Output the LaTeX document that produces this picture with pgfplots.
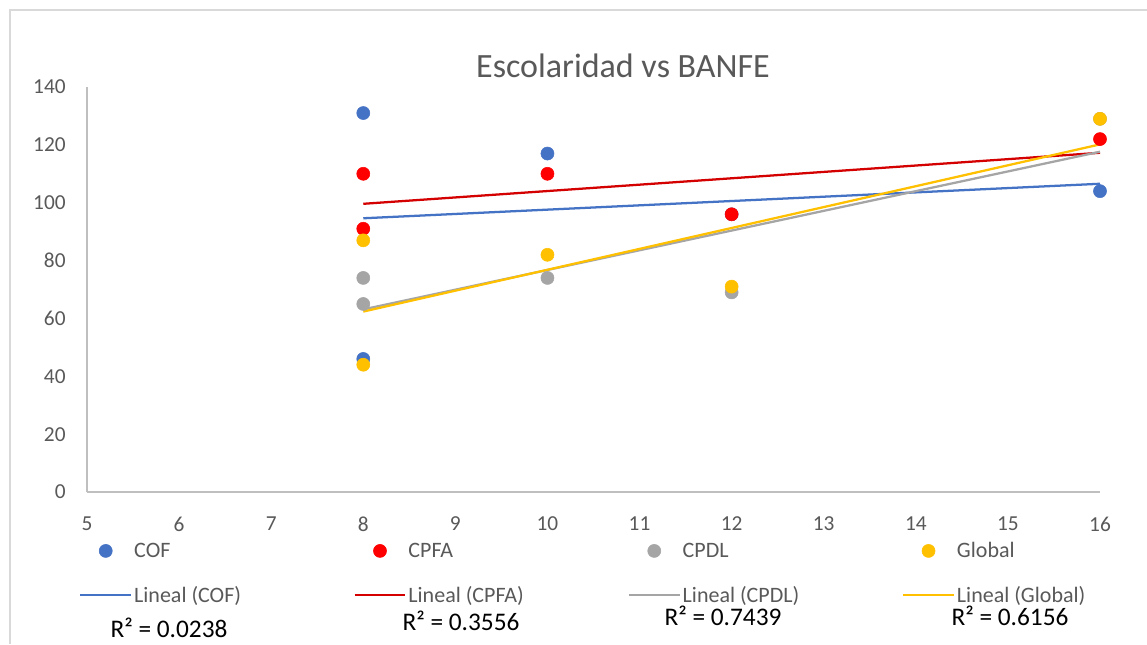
\documentclass[border=0pt]{standalone}
\usepackage{pgfplots}
\pgfplotsset{compat=1.18}
\usepackage{fontspec}
\setmainfont{Carlito}
\definecolor{cof}{HTML}{4472C4}
\definecolor{cpfa}{HTML}{FF0000}
\definecolor{cpfaline}{HTML}{D40000}
\definecolor{cpdl}{HTML}{A5A5A5}
\definecolor{glob}{HTML}{FFC000}
\definecolor{txt}{HTML}{595959}
\definecolor{framec}{HTML}{D9D9D9}
\definecolor{axl}{HTML}{BFBFBF}
\pgfplotsset{
  dotstyle/.style={only marks, mark=*, mark size=4.9pt, mark options={draw=#1, fill=#1}, color=#1,
    legend image code/.code={\path[draw=none] (0pt,0pt) -- (38pt,0pt); \draw[mark repeat=1,##1] plot coordinates {(19pt,0pt)};}},
  trend/.style={no markers, line width=1.7pt, color=#1,
    legend image code/.code={\draw[##1] (0pt,0pt) -- (38pt,0pt);}},
}
\begin{document}
\begin{tikzpicture}
\begin{scope}[x=0.75pt,y=-0.75pt]
\path[use as bounding box] (0,0) rectangle (1147,644);
\fill[white] (0,0) rectangle (1147,644);
\draw[framec, line width=1.2pt] (10,644) -- (10,10) -- (1147,10);
\node[text=txt, font=\fontsize{25.5}{28}\selectfont] at (623,66) {Escolaridad vs BANFE};
\node[font=\fontsize{19}{21}\selectfont, inner sep=1pt] at (169,628) {R² = 0.0238};
\node[font=\fontsize{19}{21}\selectfont, inner sep=1pt] at (461,621) {R² = 0.3556};
\node[font=\fontsize{19}{21}\selectfont, inner sep=1pt] at (723,616) {R² = 0.7439};
\node[font=\fontsize{19}{21}\selectfont, inner sep=1pt] at (1010,616) {R² = 0.6156};
\end{scope}
\begin{axis}[
  at={(65.25pt,-369pt)}, anchor=south west,
  scale only axis, width=759.75pt, height=303.75pt,
  xmin=5, xmax=16, ymin=0, ymax=140,
  xtick={5,6,...,16}, ytick={0,20,...,140},
  axis x line*=bottom, axis y line*=left,
  axis line style={axl, line width=0.9pt, -},
  major tick length=0pt,
  tick label style={text=txt, font=\fontsize{16}{18}\selectfont},
  /pgf/number format/assume math mode=true,
  xticklabel style={yshift=-15pt},
  yticklabel style={xshift=-12.5pt},
  clip=false,
  legend columns=4,
  legend cell align=left,
  legend style={draw=none, fill=none, at={(0,0)}, anchor=north west,
    xshift=-6pt, yshift=-35.5pt, column sep=0pt, row sep=16pt,
    font=\fontsize{16.5}{18}\selectfont, text=txt, inner sep=0pt,
    nodes={inner xsep=1.5pt}},
]
\addplot[dotstyle=cof] coordinates {(8,131) (8,46) (10,117) (12,96) (16,104)};
\addlegendentry{\makebox[163pt][l]{COF}}
\addplot[dotstyle=cpfa] coordinates {(8,110) (8,91) (10,110) (12,96) (16,122)};
\addlegendentry{\makebox[163pt][l]{CPFA}}
\addplot[dotstyle=cpdl] coordinates {(8,74) (8,65) (10,74) (12,69) (16,129)};
\addlegendentry{\makebox[163pt][l]{CPDL}}
\addplot[dotstyle=glob] coordinates {(8,87) (8,44) (10,82) (12,71) (16,129)};
\addlegendentry{\makebox[110pt][l]{Global}}
\addplot[trend=cof] coordinates {(8,94.625) (16,106.554)};
\addlegendentry{\makebox[163pt][l]{Lineal (COF)}}
\addplot[trend=cpfaline] coordinates {(8,99.625) (16,117.268)};
\addlegendentry{\makebox[163pt][l]{Lineal (CPFA)}}
\addplot[trend=cpdl] coordinates {(8,63.125) (16,117.625)};
\addlegendentry{\makebox[163pt][l]{Lineal (CPDL)}}
\addplot[trend=glob] coordinates {(8,62.375) (16,120.161)};
\addlegendentry{\makebox[110pt][l]{Lineal (Global)}}
\end{axis}
\end{tikzpicture}
\end{document}
